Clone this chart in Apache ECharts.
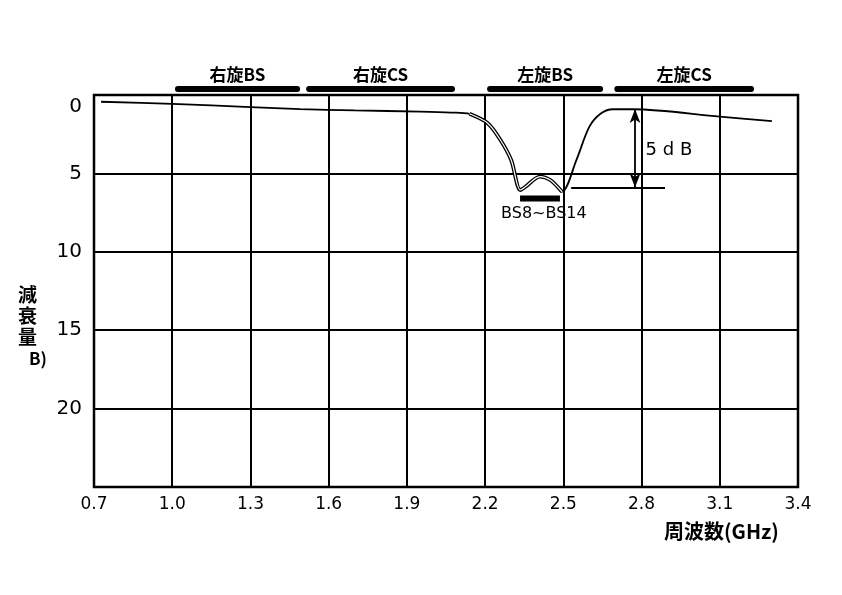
<!DOCTYPE html>
<html>
<head>
<meta charset="utf-8">
<script src="https://cdn.jsdelivr.net/npm/echarts@6/dist/echarts.min.js"></script>
<style>
  html, body { margin: 0; padding: 0; background: #fff; }
  #chart { width: 842px; height: 595px; }
</style>
</head>
<body>
<div id="chart"></div>
<script>
// 減衰量カーブ (周波数 GHz, 減衰量 dB)
var freq = [0.727, 1.0, 1.3, 1.49, 1.7, 1.95, 2.07, 2.14, 2.21, 2.26, 2.30, 2.335, 2.355, 2.41, 2.45, 2.495, 2.55, 2.60, 2.645, 2.69, 2.77, 3.1, 3.30];
var atten = [0.43, 0.57, 0.77, 0.9, 0.98, 1.06, 1.12, 1.2, 1.8, 2.9, 4.15, 6.06, 5.85, 5.2, 5.42, 6.17, 4.15, 2.02, 1.17, 0.91, 0.91, 1.38, 1.66];
// 二重線で描かれている区間
var dipFrom = 2.14, dipTo = 2.495;

// 上部の帯域バー
var bandNames = ['右旋BS', '右旋CS', '左旋BS', '左旋CS'];
var bandStart = [1.022, 1.525, 2.219, 2.707];
var bandEnd = [1.479, 2.073, 2.641, 3.22];

var xTicks = [0.7, 1.0, 1.3, 1.6, 1.9, 2.2, 2.5, 2.8, 3.1, 3.4];
var yTicks = [0, 5, 10, 15, 20];

var bsRange = [2.334, 2.487];
var bsLabel = 'BS8~BS14';
var refLevel = 5.9, topLevel = 0.9;

(function() {
    var myChart = echarts.init(document.getElementById('chart'));
    var curve = [];
    var dip = [];
    for (var i = 0; i < freq.length; i++) {
        curve.push([freq[i], atten[i]]);
        if (freq[i] >= dipFrom && freq[i] <= dipTo) dip.push([freq[i], atten[i]]);
    }
    var cjk = '"Noto Sans CJK JP", sans-serif';
    var txt = { color: '#000', opacity: 1, textBorderWidth: 0 };
    var series = [
        { type: 'line', data: curve, smooth: 0.3, showSymbol: false, lineStyle: { color: '#000', width: 1.8 }, z: 3,
          markLine: {
              silent: true, symbol: 'none', label: { show: false },
              lineStyle: { color: '#000', width: 1.8, type: 'solid' },
              data: [
                  [{ coord: [2.53, refLevel] }, { coord: [2.89, refLevel] }]
              ]
          }
        },
        { type: 'line', data: dip, smooth: 0.3, showSymbol: false, lineStyle: { color: '#000', width: 3.8 }, z: 4 },
        { type: 'line', data: dip, smooth: 0.3, showSymbol: false, lineStyle: { color: '#fff', width: 1.2 }, z: 5,
          markLine: {
              silent: true, symbol: ['arrow', 'arrow'], symbolSize: [8, 14], label: { show: false },
              lineStyle: { color: '#000', width: 1.8, type: 'solid' },
              data: [
                  [{ coord: [2.775, topLevel] }, { coord: [2.775, refLevel] }]
              ]
          }
        },
        // BS8~BS14 bar
        { type: 'line', data: [[bsRange[0], 6.6], [bsRange[1], 6.6]], showSymbol: false, clip: false,
          lineStyle: { color: '#000', width: 6 }, z: 6 },
        { type: 'scatter', data: [[(bsRange[0] + bsRange[1]) / 2 + 0.015, 7.6]], symbolSize: 0, clip: false,
          label: Object.assign({ show: true, position: 'inside', formatter: bsLabel,
                   fontFamily: 'DejaVu Sans', fontSize: 16 }, txt) },
        { type: 'scatter', data: [[2.905, 3.5]], symbolSize: 0, clip: false,
          label: Object.assign({ show: true, position: 'inside', formatter: '5 d B',
                   fontFamily: 'DejaVu Sans', fontSize: 18 }, txt) }
    ];
    for (var b = 0; b < bandNames.length; b++) {
        series.push({ type: 'line', data: [[bandStart[b], -0.38], [bandEnd[b], -0.38]], showSymbol: false, clip: false,
            lineStyle: { color: '#000', width: 6, cap: 'round' }, z: 6 });
        series.push({ type: 'scatter', data: [[(bandStart[b] + bandEnd[b]) / 2, -1.3]], symbolSize: 0, clip: false,
            label: Object.assign({ show: true, position: 'inside', formatter: bandNames[b],
                     fontFamily: cjk, fontWeight: 'bold', fontSize: 17 }, txt) });
    }

    var option = {
        animation: false,
        backgroundColor: '#fff',
        grid: { left: 94, right: 44, top: 95, bottom: 108, show: true, borderColor: '#000', borderWidth: 2.5 },
        xAxis: {
            type: 'value', min: xTicks[0], max: xTicks[xTicks.length - 1], interval: 0.3,
            axisLine: { show: false }, axisTick: { show: false },
            splitLine: { show: true, lineStyle: { color: '#000', width: 2 } },
            axisLabel: { color: '#000', fontFamily: 'DejaVu Sans', fontSize: 17, margin: 9,
                         formatter: function(v) { return v.toFixed(1); } }
        },
        yAxis: {
            type: 'value', inverse: true, min: 0, max: 25, interval: 5,
            axisLine: { show: false }, axisTick: { show: false },
            splitLine: { show: true, lineStyle: { color: '#000', width: 2 } },
            axisLabel: { color: '#000', fontFamily: 'DejaVu Sans', fontSize: 20, margin: 12,
                         formatter: function(v) {
                             if (v === yTicks[0]) return '{top|' + v + '}';
                             return yTicks.indexOf(v) >= 0 ? String(v) : '';
                         },
                         rich: { top: { fontFamily: 'DejaVu Sans', fontSize: 20, color: '#000', padding: [24, 0, 0, 0] } } }
        },
        graphic: [
            { type: 'text', left: 664, top: 521,
              style: { text: '周波数(GHz)', fill: '#000', font: 'bold 20px ' + cjk } },
            { type: 'text', left: 18, top: 284,
              style: { text: '減\n衰\n量', fill: '#000', font: 'bold 19px ' + cjk, lineHeight: 21 } },
            { type: 'text', left: 29, top: 350,
              style: { text: 'B)', fill: '#000', font: 'bold 17px ' + cjk } }
        ],
        series: series
    };
    myChart.setOption(option);
})();
</script>
</body>
</html>
